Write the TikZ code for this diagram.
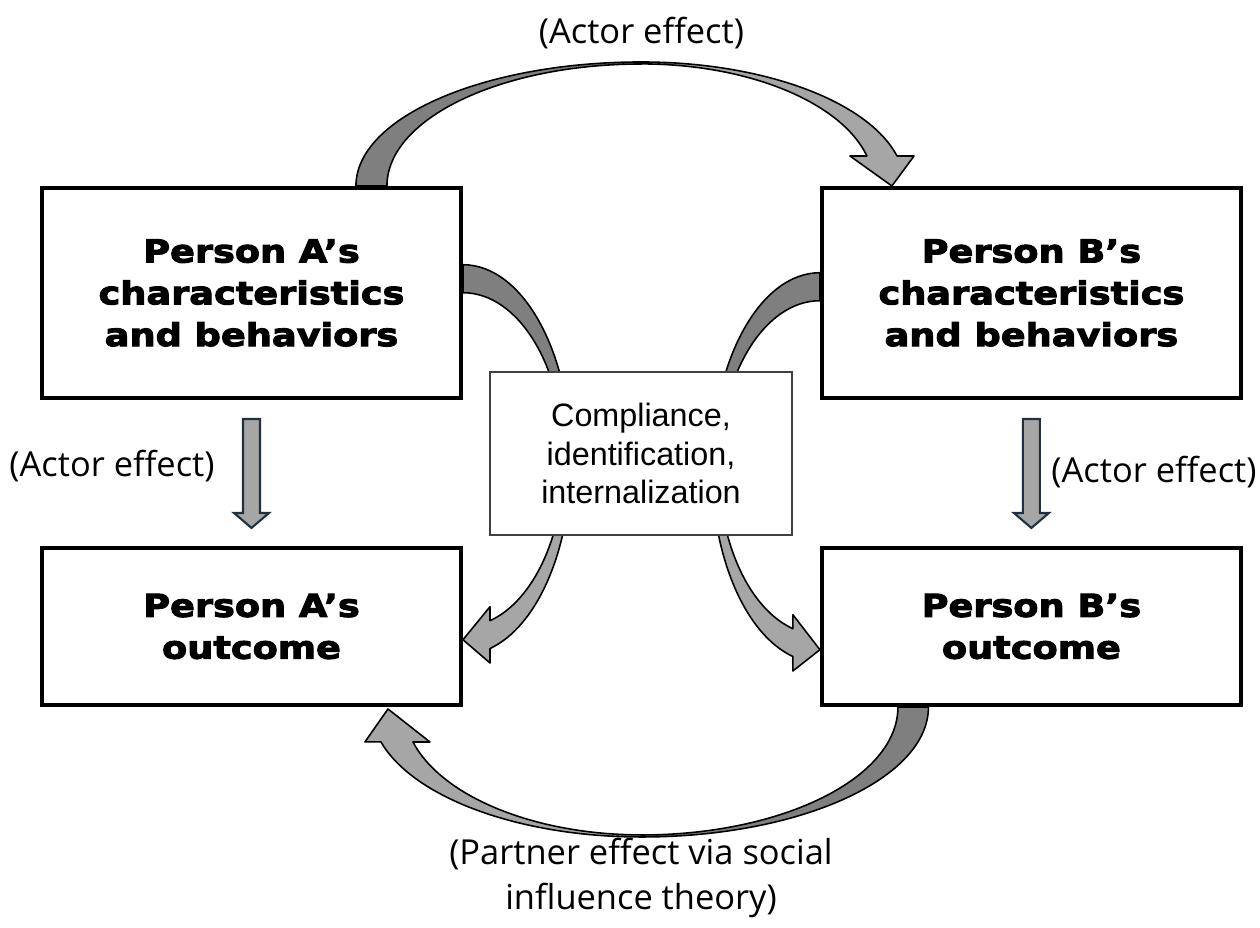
\documentclass[tikz,border=0pt]{standalone}
\usepackage{fontspec}
\setmainfont{Liberation Sans}
\newfontfamily\headfont{DejaVu Sans}[BoldFeatures={FakeStretch=1.16,FakeBold=3.2}]
\newfontfamily\labelfont{Open Sans}
\usepackage{tikz}
\usetikzlibrary{positioning,calc,backgrounds}
\definecolor{arrdark}{HTML}{7F7F7F}
\definecolor{arrlight}{HTML}{A6A6A6}
\definecolor{actedge}{HTML}{1F3140}
\newcommand\headtext{\headfont\bfseries\fontsize{18}{23.8}\selectfont}
\newcommand\midtext{\fontsize{18.4}{22.1}\selectfont}
\newcommand\labeltext{\labelfont\fontsize{19.6}{25.5}\selectfont}

\begin{document}
\begin{tikzpicture}[x=0.02cm,y=0.02cm,
  box/.style={draw,line width=2.3pt,fill=white,align=center,
              font=\headtext,minimum width=8.38cm},
  chr/.style={box,minimum height=4.2cm},
  outc/.style={box,minimum height=3.14cm},
  mid/.style={draw=black!75,line width=0.8pt,fill=white,align=center,
              font=\midtext,minimum width=6.04cm,minimum height=3.26cm},
  lab/.style={font=\labeltext,align=center},
  band/.style={draw,line width=0.9pt,line join=round},
  back/.style={band,fill=arrdark},
  front/.style={band,fill=arrlight},
  actor/.style={draw=actedge,line width=1.2pt,fill=arrlight},
]
\useasboundingbox (0,0) rectangle (1260,928);

\node[chr] (ac) at (251.5,635) {Person A’s\\characteristics\\and behaviors};
\node[chr,right=7.14cm of ac] (bc) {Person B’s\\characteristics\\and behaviors};
\node[outc,below=2.92cm of ac] (ao) {Person A’s\\outcome};
\node[outc,below=2.92cm of bc] (bo) {Person B’s\\outcome};

% centres of the curved block arrows
\path ($(ac.north)!0.5!(bc.north)$) coordinate (topc)
      ($(ao.south)!0.5!(bo.south)$) coordinate (botc)
      ($(ac.east)!0.5!(ao.east)$) coordinate (lc)
      ($(bc.west)!0.5!(bo.west)+(0,-8)$) coordinate (rc);

\begin{scope}[on background layer]
% A -> B over the top
\draw[back] ($(topc)+(-285.5,0)$) arc[start angle=180,end angle=90,x radius=285.5,y radius=124]
  -- ($(topc)+(0,122)$) arc[start angle=90,end angle=180,x radius=254.5,y radius=122] -- cycle;
\draw[front] ($(topc)+(0,124)$) arc[start angle=90,end angle=14,x radius=263.4,y radius=124]
  -- ++(17,0) -- ($(bc.north)+(-139.5,0)$) -- ($(topc)+(208.5,30)$)
  -- ($(topc)+(225.5,30)$) arc[start angle=14.2,end angle=90,x radius=232.7,y radius=122] -- cycle;

% B outcome -> A outcome underneath
\draw[back] ($(botc)+(287,0)$) arc[start angle=0,end angle=-90,x radius=287,y radius=130]
  -- ($(botc)+(0,-128)$) arc[start angle=-90,end angle=0,x radius=256.5,y radius=128] -- cycle;
\draw[front] ($(botc)+(0,-130)$) arc[start angle=-90,end angle=-164.4,x radius=270.5,y radius=130]
  -- ++(-16,0) -- ($(ao.south)+(136.5,-2)$) -- ($(botc)+(-211.5,-35)$)
  -- ($(botc)+(-228.5,-35)$) arc[start angle=-164.1,end angle=-90,x radius=237.5,y radius=128] -- cycle;

% A characteristics -> A outcome, behind the middle box
\draw[back] ($(lc)+(0,195)$) arc[start angle=90,end angle=0,x radius=108,y radius=195]
  -- ($(lc)+(101,0)$) arc[start angle=0,end angle=90,x radius=101,y radius=167] -- cycle;
\draw[front] ($(lc)+(108,0)$) arc[start angle=0,end angle=-75.5,x radius=108,y radius=195]
  -- ++(0,-14.5) -- ($(lc)+(0,-180)$) -- ($(lc)+(27,-147)$)
  -- ($(lc)+(27,-161)$) arc[start angle=-74.5,end angle=0,x radius=101,y radius=167] -- cycle;

% B characteristics -> B outcome, behind the middle box
\draw[back] ($(rc)+(0,195)$) arc[start angle=90,end angle=180,x radius=108,y radius=195]
  -- ($(rc)+(-101,0)$) arc[start angle=180,end angle=90,x radius=101,y radius=167] -- cycle;
\draw[front] ($(rc)+(-108,0)$) arc[start angle=180,end angle=255.5,x radius=108,y radius=195]
  -- ++(0,-14.5) -- ($(rc)+(0,-182)$) -- ($(rc)+(-27,-147)$)
  -- ($(rc)+(-27,-161)$) arc[start angle=254.5,end angle=180,x radius=101,y radius=167] -- cycle;
\end{scope}

\node[mid] (mech) at (641,474.5) {Compliance,\\identification,\\internalization};

% straight actor arrows
\foreach \u/\v in {ac/ao,bc/bo}
  \draw[actor] ($(\u.south)+(-8.5,-19)$) -- ($(\u.south)+(8.5,-19)$)
    -- ($(\v.north)+(8.5,33)$) -- ($(\v.north)+(17.5,33)$) -- ($(\v.north)+(0,18)$)
    -- ($(\v.north)+(-17.5,33)$) -- ($(\v.north)+(-8.5,33)$) -- cycle;

\node[lab] (acttop) at ($(topc)+(0,153)$) {(Actor effect)};
\node[lab] (actleft) at (112,462) {(Actor effect)};
\node[lab] (actright) at (1154,456) {(Actor effect)};
\node[lab] (partner) at (641,50) {(Partner effect via social\\influence theory)};
\end{tikzpicture}
\end{document}
